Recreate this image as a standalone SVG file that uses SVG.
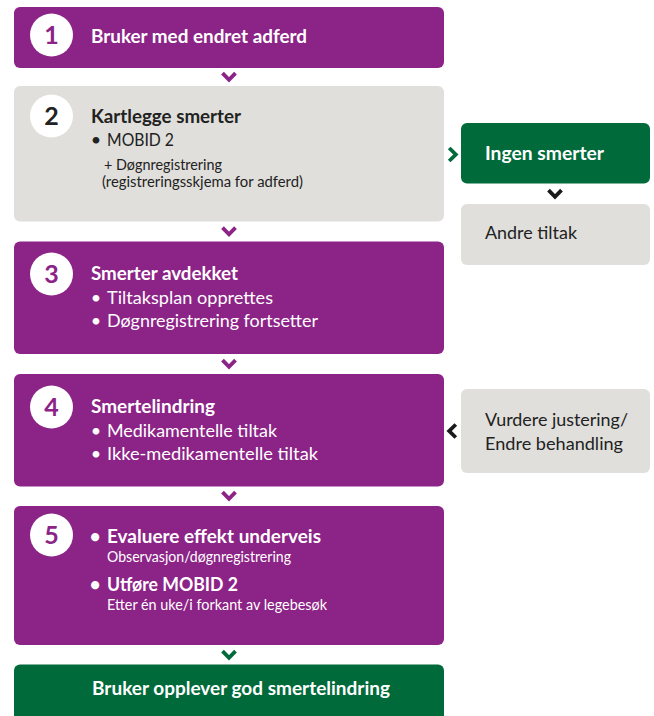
<svg xmlns="http://www.w3.org/2000/svg" width="654" height="716" viewBox="0 0 654 716">
  <defs>
    <style>
      .purple { fill: #8c2387; }
      .green { fill: #006a3b; }
      .grey { fill: #e0dfdb; }
      .disc { fill: #ffffff; }
      text { font-family: Lato, "Open Sans", "Liberation Sans", sans-serif; }
      .num { font-size: 25px; font-weight: 700; text-anchor: middle; }
      .num-p { fill: #8c2387; }
      .num-d { fill: #222222; }
      .head { font-size: 18.5px; font-weight: 700; }
      .item { font-size: 18px; }
      .small { font-size: 14.5px; }
      .light { fill: #ffffff; }
      .dark { fill: #222222; }
      .chev { fill: none; stroke-width: 3.8; stroke-linejoin: miter; stroke-linecap: butt; }
    </style>
    <path id="chev-down" d="M-6.5,-3.8 L0,2.8 L6.5,-3.8"/>
  </defs>

  <!-- step 1 -->
  <g id="step1">
    <rect class="purple" x="14" y="7" width="430" height="61" rx="6"/>
    <circle class="disc" cx="51.5" cy="35" r="21.5"/>
    <text class="num num-p" x="51.5" y="44">1</text>
    <text class="head light" x="91" y="43" textLength="216" lengthAdjust="spacingAndGlyphs">Bruker med endret adferd</text>
  </g>

  <!-- step 2 -->
  <g id="step2">
    <rect class="grey" x="14" y="86" width="430" height="135.5" rx="6"/>
    <circle class="disc" cx="51.5" cy="116" r="21.5"/>
    <text class="num num-d" x="51.5" y="125">2</text>
    <text class="head dark" x="91" y="123" textLength="150" lengthAdjust="spacingAndGlyphs">Kartlegge smerter</text>
    <text class="item dark" x="96" y="146" text-anchor="middle">•</text>
    <text class="item dark" x="107" y="146" textLength="67" lengthAdjust="spacingAndGlyphs">MOBID 2</text>
    <text class="small dark" x="104" y="170" textLength="118" lengthAdjust="spacingAndGlyphs">+ Døgnregistrering</text>
    <text class="small dark" x="102" y="187" textLength="201" lengthAdjust="spacingAndGlyphs">(registreringsskjema for adferd)</text>
  </g>

  <!-- step 3 -->
  <g id="step3">
    <rect class="purple" x="14" y="241.5" width="430" height="112.5" rx="6"/>
    <circle class="disc" cx="51.5" cy="274" r="21.5"/>
    <text class="num num-p" x="51.5" y="283">3</text>
    <text class="head light" x="91" y="280" textLength="147" lengthAdjust="spacingAndGlyphs">Smerter avdekket</text>
    <text class="item light" x="96" y="304" text-anchor="middle">•</text>
    <text class="item light" x="107" y="304" textLength="166" lengthAdjust="spacingAndGlyphs">Tiltaksplan opprettes</text>
    <text class="item light" x="96" y="327" text-anchor="middle">•</text>
    <text class="item light" x="107" y="327" textLength="211" lengthAdjust="spacingAndGlyphs">Døgnregistrering fortsetter</text>
  </g>

  <!-- step 4 -->
  <g id="step4">
    <rect class="purple" x="14" y="374" width="430" height="112.5" rx="6"/>
    <circle class="disc" cx="51.5" cy="407" r="21.5"/>
    <text class="num num-p" x="51.5" y="416">4</text>
    <text class="head light" x="91" y="413" textLength="124" lengthAdjust="spacingAndGlyphs">Smertelindring</text>
    <text class="item light" x="96" y="437" text-anchor="middle">•</text>
    <text class="item light" x="107" y="437" textLength="170" lengthAdjust="spacingAndGlyphs">Medikamentelle tiltak</text>
    <text class="item light" x="96" y="460" text-anchor="middle">•</text>
    <text class="item light" x="107" y="460" textLength="211" lengthAdjust="spacingAndGlyphs">Ikke-medikamentelle tiltak</text>
  </g>

  <!-- step 5 -->
  <g id="step5">
    <rect class="purple" x="14" y="506" width="430" height="139" rx="6"/>
    <circle class="disc" cx="51.5" cy="535" r="21.5"/>
    <text class="num num-p" x="51.5" y="544">5</text>
    <text class="head light" x="95" y="543" text-anchor="middle">•</text>
    <text class="head light" x="107" y="543" textLength="214" lengthAdjust="spacingAndGlyphs">Evaluere effekt underveis</text>
    <text class="small light" x="107" y="562" textLength="184" lengthAdjust="spacingAndGlyphs">Observasjon/døgnregistrering</text>
    <text class="head light" x="95" y="591" text-anchor="middle">•</text>
    <text class="head light" x="107" y="591" textLength="131" lengthAdjust="spacingAndGlyphs">Utføre MOBID 2</text>
    <text class="small light" x="107" y="610" textLength="220" lengthAdjust="spacingAndGlyphs">Etter én uke/i forkant av legebesøk</text>
  </g>

  <!-- outcome -->
  <g id="outcome">
    <rect class="green" x="14" y="664.5" width="430" height="70" rx="6"/>
    <text class="head light" x="92" y="695" textLength="298" lengthAdjust="spacingAndGlyphs">Bruker opplever god smertelindring</text>
  </g>

  <!-- side branch: no pain -->
  <g id="no-pain">
    <rect class="green" x="461" y="123" width="189" height="60.5" rx="6"/>
    <text class="head light" x="485" y="160" textLength="119" lengthAdjust="spacingAndGlyphs">Ingen smerter</text>
  </g>

  <g id="other-measures">
    <rect class="grey" x="461" y="204" width="189" height="61" rx="6"/>
    <text class="item dark" x="485" y="239" textLength="92" lengthAdjust="spacingAndGlyphs">Andre tiltak</text>
  </g>

  <!-- side branch: adjust treatment -->
  <g id="adjust">
    <rect class="grey" x="461" y="389" width="189" height="84" rx="6"/>
    <text class="item dark" x="485" y="426" textLength="143" lengthAdjust="spacingAndGlyphs">Vurdere justering/</text>
    <text class="item dark" x="485" y="450" textLength="138" lengthAdjust="spacingAndGlyphs">Endre behandling</text>
  </g>

  <!-- chevron connectors -->
  <g id="connectors">
    <use href="#chev-down" class="chev" stroke="#8c2387" transform="translate(229,77)"/>
    <use href="#chev-down" class="chev" stroke="#8c2387" transform="translate(229,231.5)"/>
    <use href="#chev-down" class="chev" stroke="#8c2387" transform="translate(229,364)"/>
    <use href="#chev-down" class="chev" stroke="#8c2387" transform="translate(229,496)"/>
    <use href="#chev-down" class="chev" stroke="#006a3b" transform="translate(229,655)"/>
    <use href="#chev-down" class="chev" stroke="#1a1a1a" transform="translate(555,194)"/>
    <use href="#chev-down" class="chev" stroke="#006a3b" transform="translate(453,154.5) rotate(-90)"/>
    <use href="#chev-down" class="chev" stroke="#1a1a1a" transform="translate(452,431) rotate(90)"/>
  </g>
</svg>
